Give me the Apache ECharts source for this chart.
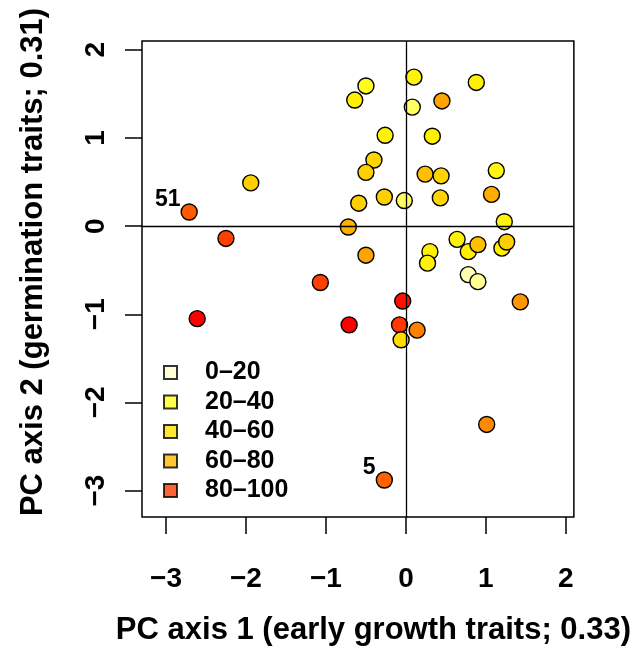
<!DOCTYPE html>
<html>
<head>
<meta charset="utf-8">
<script src="https://cdn.jsdelivr.net/npm/echarts@6/dist/echarts.min.js"></script>
<style>
html,body{margin:0;padding:0;background:#fff;}
#chart{width:634px;height:651px;}
</style>
</head>
<body>
<div id="chart"></div>
<script>
// PC scores per population (axis 1, axis 2) and the percentage used for colour
const pc1 = [-2.71, -1.94, -2.25, -0.50, -0.64, 0.10, 0.88, 0.08, 0.45, -0.26, 0.33, -0.40, -0.50, 0.24, 0.44, 1.13, -0.59, -0.27, -0.02, 0.43, 1.07, 1.23, -0.72, -0.50,
             0.64, 0.30, 0.27, 0.78, 0.90, 1.20, 1.26, 0.78, 0.90, 1.43, -1.07, -0.04, -2.61, -0.71, -0.08, 0.14, -0.06, 1.01, -0.27];
const pc2 = [0.16, 0.49, -0.14, 1.59, 1.43, 1.69, 1.63, 1.35, 1.42, 1.03, 1.02, 0.75, 0.61, 0.59, 0.57, 0.63, 0.26, 0.33, 0.29, 0.32, 0.36, 0.05, -0.01, -0.33,
             -0.15, -0.29, -0.42, -0.29, -0.21, -0.25, -0.18, -0.55, -0.63, -0.86, -0.64, -0.85, -1.05, -1.12, -1.12, -1.18, -1.29, -2.25, -2.88];
const pct = [88, 55, 92, 30, 40, 38, 40, 20, 72, 38, 40, 52, 55, 62, 53, 35, 55, 55, 20, 53, 70, 36, 68, 72,
             38, 40, 38, 40, 62, 40, 56, 8, 14, 75, 92, 98, 100, 100, 93, 80, 50, 78, 86];
const ptLabel = ['51', '', '', '', '', '', '', '', '', '', '', '', '', '', '', '', '', '', '', '', '', '', '', '',
                 '', '', '', '', '', '', '', '', '', '', '', '', '', '', '', '', '', '', '5'];

const legendNames = ['0\u201320', '20\u201340', '40\u201360', '60\u201380', '80\u2013100'];
const legendColors = ['#FFFFC8', '#FFFF22', '#FFE100', '#FFB900', '#FF3C00'];
const xTicks = [-3, -2, -1, 0, 1, 2];
const yTicks = [-3, -2, -1, 0, 1, 2];

const colorStops = [[0, [255,255,208]], [15, [255,255,144]], [25, [255,255,48]], [40, [255,240,0]],
                    [55, [255,208,0]], [70, [255,172,0]], [80, [255,128,0]], [90, [255,80,0]], [100, [255,0,0]]];
function pctColor(v) {
  for (let i = 1; i < colorStops.length; i++) {
    const a = colorStops[i-1], b = colorStops[i];
    if (v <= b[0]) {
      const t = (v - a[0]) / (b[0] - a[0]);
      const c = a[1].map((ch, k) => Math.round(ch + (b[1][k] - ch) * t));
      return 'rgb(' + c.join(',') + ')';
    }
  }
  return 'rgb(255,0,0)';
}

const FONT = 'Liberation Sans';
const minus = v => String(v).replace('-', '\u2212');

const series = [{
  type: 'scatter',
  name: 'pops',
  data: pc1.map((x, i) => [x, pc2[i], pct[i], ptLabel[i]]),
  symbolSize: 16,
  itemStyle: {
    color: p => pctColor(p.value[2]),
    borderColor: '#000',
    borderWidth: 1.4,
    opacity: 1
  },
  label: {
    show: true,
    position: 'left',
    distance: 0,
    offset: [0, -12],
    formatter: p => p.value[3],
    fontFamily: FONT,
    fontWeight: 'bold',
    fontSize: 23,
    color: '#000'
  },
  markLine: {
    silent: true,
    symbol: ['none', 'none'],
    label: { show: false },
    lineStyle: { color: '#000', type: 'solid', width: 1.3 },
    data: [{ xAxis: 0 }, { yAxis: 0 }],
    animation: false
  },
  z: 2
}];
legendNames.forEach((n, i) => {
  series.push({
    type: 'scatter', name: n, data: [],
    itemStyle: { color: legendColors[i], borderColor: '#000', borderWidth: 1.5 }
  });
});

const chart = echarts.init(document.getElementById('chart'), null, { renderer: 'canvas' });
chart.setOption({
  animation: false,
  backgroundColor: '#fff',
  grid: {
    left: 142, right: 59, top: 41, bottom: 132,
    show: true, borderColor: '#000', borderWidth: 1.5, backgroundColor: 'transparent'
  },
  legend: {
    data: legendNames,
    orient: 'vertical',
    left: 163, top: 360,
    padding: 0,
    icon: 'rect',
    itemWidth: 13, itemHeight: 13,
    itemGap: 4.5,
    selectedMode: false,
    textStyle: {
      fontFamily: FONT, fontWeight: 'bold', fontSize: 25, lineHeight: 25, color: '#000',
      padding: [0, 0, 0, 23]
    }
  },
  xAxis: {
    type: 'value',
    min: -3.3, max: 2.1,
    name: 'PC axis 1 (early growth traits; 0.33)',
    nameLocation: 'middle',
    nameGap: 98,
    nameTextStyle: { fontFamily: FONT, fontWeight: 'bold', fontSize: 31, color: '#000', padding: [0, 0, 0, 31] },
    axisLine: { show: false, onZero: false },
    axisTick: { show: true, length: 17, customValues: xTicks, lineStyle: { color: '#000', width: 1.5 } },
    axisLabel: { customValues: xTicks, formatter: minus, margin: 48, fontFamily: FONT, fontWeight: 'bold', fontSize: 28, color: '#000' },
    splitLine: { show: false }
  },
  yAxis: {
    type: 'value',
    min: -3.3, max: 2.1,
    name: 'PC axis 2 (germination traits; 0.31)',
    nameLocation: 'middle',
    nameGap: 93,
    nameTextStyle: { fontFamily: FONT, fontWeight: 'bold', fontSize: 31, color: '#000', padding: [0, 0, 0, 34] },
    axisLine: { show: false, onZero: false },
    axisTick: { show: true, length: 17, customValues: yTicks, lineStyle: { color: '#000', width: 1.5 } },
    axisLabel: { customValues: yTicks, formatter: minus, rotate: 90, margin: 32, fontFamily: FONT, fontWeight: 'bold', fontSize: 28, color: '#000' },
    splitLine: { show: false }
  },
  series: series
});
</script>
</body>
</html>
